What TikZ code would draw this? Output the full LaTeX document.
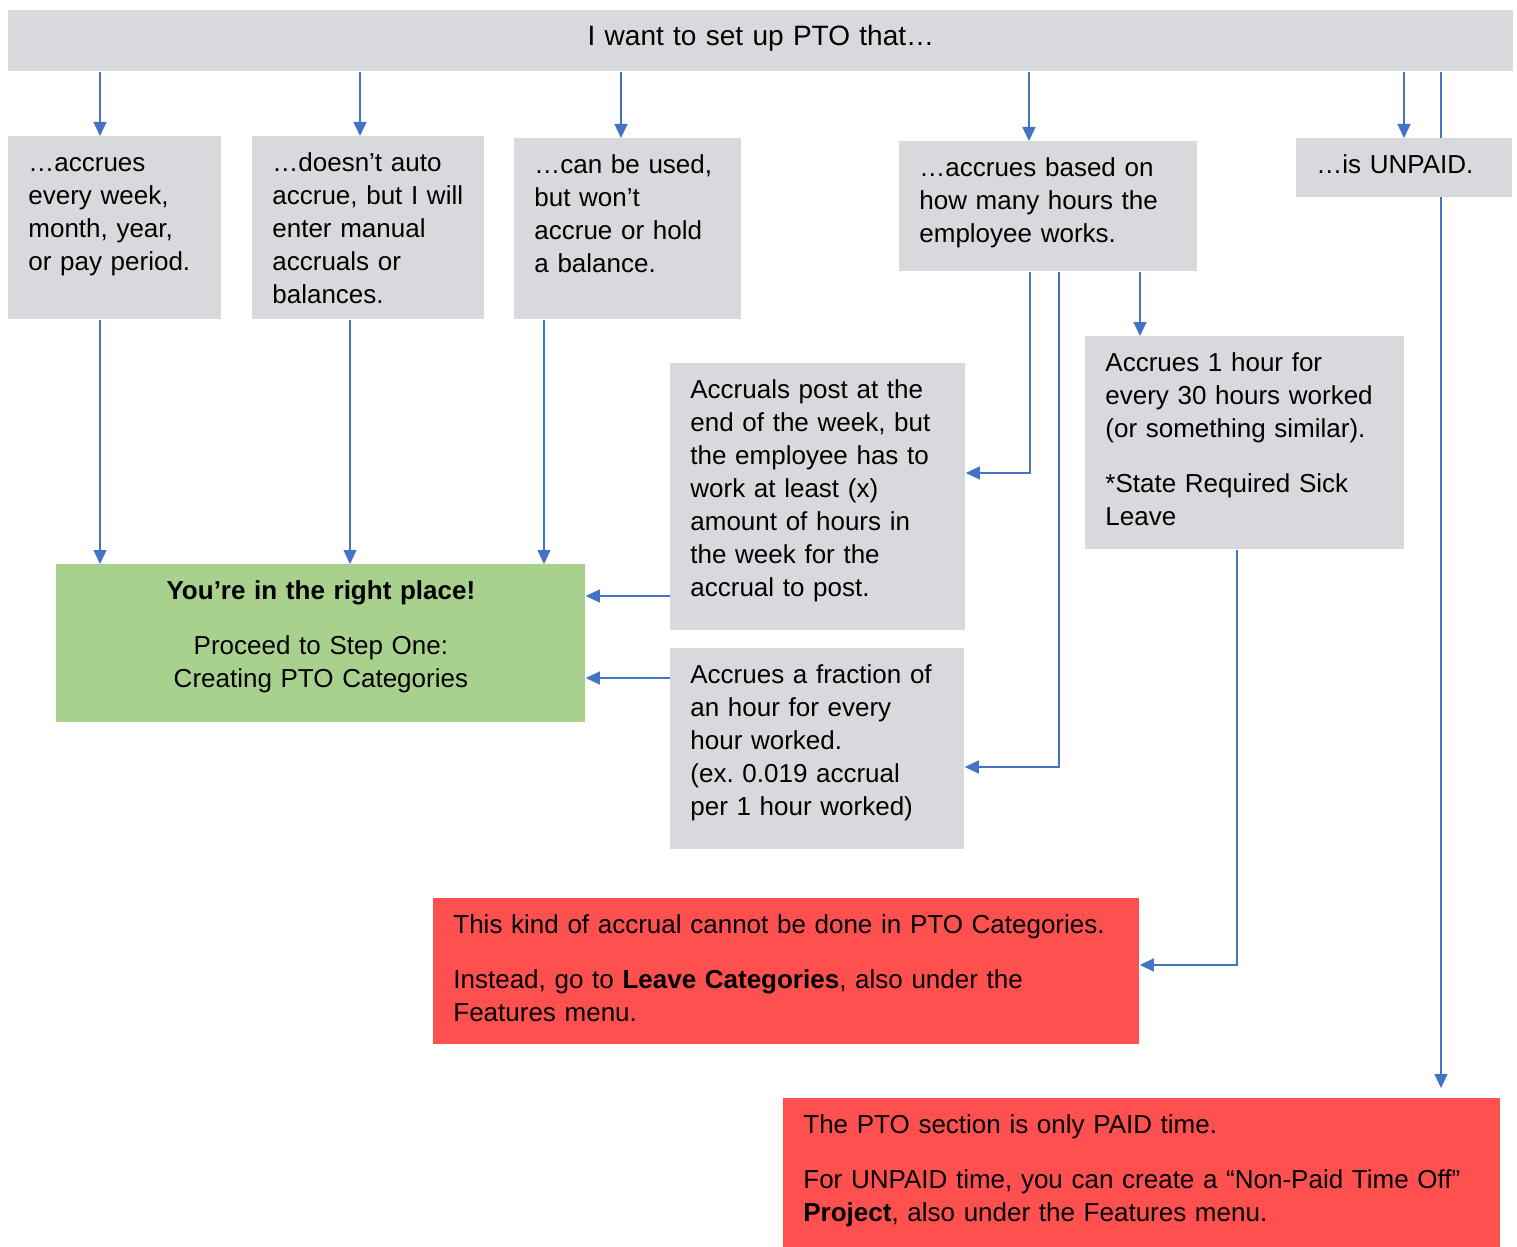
\documentclass[tikz,border=0pt]{standalone}
\usepackage{fontspec}
\setmainfont{Liberation Sans}
\usetikzlibrary{arrows.meta,backgrounds}
\definecolor{ptogray}{RGB}{216,217,221}
\definecolor{ptogreen}{RGB}{169,209,142}
\definecolor{ptored}{RGB}{255,80,80}
\definecolor{ptoblue}{RGB}{68,114,196}
\frenchspacing

\begin{document}
\begin{tikzpicture}[x=0.5pt,y=-0.5pt,font=\fontsize{13pt}{16.5pt}\selectfont,
    every node/.style={anchor=north west,align=left,inner xsep=10pt,inner ysep=0pt,text height=17.5pt},
    gbox/.style={fill=ptogray},
    rbox/.style={fill=ptored},
    arr/.style={ptoblue,line width=0.7pt,-{Triangle[length=7pt,width=6.5pt]}}]
        \useasboundingbox (0,0) rectangle (1517,1247);
        \node[gbox,text width=732.5pt,text depth=13pt,align=center,font=\fontsize{14pt}{16.5pt}\selectfont] (top) at (8,10) {I want to set up PTO that…};
        \node[gbox,text width=86.5pt,text depth=74pt] (a1) at (8,136) {…accrues\\every week,\\month, year,\\or pay period.};
        \node[gbox,text width=96pt,text depth=74pt] (a2) at (252,136) {…doesn’t auto\\accrue, but I will\\enter manual\\accruals or\\balances.};
        \node[gbox,text width=93.5pt,text depth=73pt] (a3) at (514,138) {…can be used,\\but won’t\\accrue or hold\\a balance.};
        \node[gbox,text width=129pt,text depth=47.5pt] (a4) at (899,141) {…accrues based on\\how many hours the\\employee works.};
        \node[gbox,text width=88pt,text depth=12pt] (a5) at (1296,138) {…is UNPAID.};
        \node[gbox,text width=127.5pt,text depth=116pt] (b1) at (670,363) {Accruals post at the\\end of the week, but\\the employee has to\\work at least (x)\\amount of hours in\\the week for the\\accrual to post.};
        \node[gbox,text width=127pt,text depth=83pt] (b2) at (670,648) {Accrues a fraction of\\an hour for every\\hour worked.\\(ex. 0.019 accrual\\per 1 hour worked)};
        \node[gbox,text width=139.5pt,text depth=89pt] (c1) at (1085,336) {Accrues 1 hour for\\every 30 hours worked\\(or something similar).\\[11pt]*State Required Sick\\Leave};
        \node[fill=ptogreen,text width=244.5pt,text depth=61.5pt,align=center] (green) at (56,564) {\textbf{You’re in the right place!}\\[11pt]Proceed to Step One:\\Creating PTO Categories};
        \node[rbox,text width=333pt,text depth=55.5pt] (red1) at (433,898) {This kind of accrual cannot be done in PTO Categories.\\[11pt]Instead, go to \textbf{Leave Categories}, also under the\\Features menu.};
        \node[rbox,text width=338.5pt,text depth=57pt] (red2) at (783,1098) {The PTO section is only PAID time.\\[11pt]For UNPAID time, you can create a “Non-Paid Time Off”\\\textbf{Project}, also under the Features menu.};
        % from the question
        \draw[arr] (top.south -| 100,0) -- (a1.north -| 100,0);
        \draw[arr] (top.south -| 360,0) -- (a2.north -| 360,0);
        \draw[arr] (top.south -| 621,0) -- (a3.north -| 621,0);
        \draw[arr] (top.south -| 1029,0) -- (a4.north -| 1029,0);
        \draw[arr] (top.south -| 1404,0) -- (a5.north -| 1404,0);
        \begin{scope}[on background layer]
          \draw[arr,shorten >=5pt] (top.south -| 1441,0) -- (red2.north -| 1441,0);
        \end{scope}
        % into the green box
        \draw[arr] (a1.south -| 100,0) -- (green.north -| 100,0);
        \draw[arr] (a2.south -| 350,0) -- (green.north -| 350,0);
        \draw[arr] (a3.south -| 544,0) -- (green.north -| 544,0);
        \draw[arr] (b1.west |- 0,596) -- (green.east |- 0,596);
        \draw[arr] (b2.west |- 0,678) -- (green.east |- 0,678);
        % hours based
        \draw[arr] (a4.south -| 1030,0) |- (b1.east |- 0,473);
        \draw[arr] (a4.south -| 1059,0) |- (b2.east |- 0,767);
        \draw[arr] (a4.south -| 1140,0) -- (c1.north -| 1140,0);
        \draw[arr] (c1.south -| 1237,0) |- (red1.east |- 0,965);
      \end{tikzpicture}
\end{document}
